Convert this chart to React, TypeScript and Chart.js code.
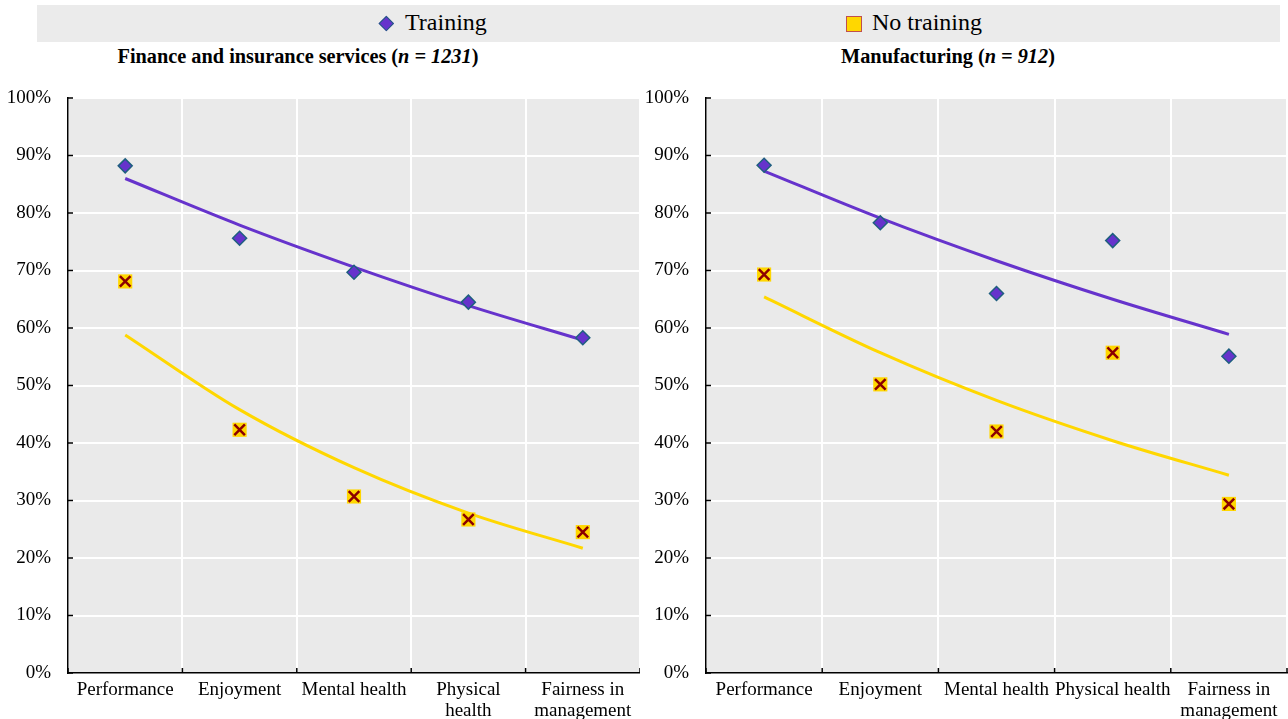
import React, { useEffect, useRef } from 'react';
import { Chart, registerables } from 'chart.js';

Chart.register(...registerables);

// ---------- Data ----------
const financeCategories: (string | string[])[] = ['Performance', 'Enjoyment', 'Mental health', ['Physical', 'health'], ['Fairness in', 'management']];
const manufacturingCategories: (string | string[])[] = ['Performance', 'Enjoyment', 'Mental health', 'Physical health', ['Fairness in', 'management']];

const financeTraining = [88.2, 75.6, 69.7, 64.5, 58.3];
const financeNoTraining = [68.1, 42.3, 30.7, 26.7, 24.5];
const financeTrainingTrend = [86.0, 77.9, 70.6, 63.9, 57.9];
const financeNoTrainingTrend = [58.8, 45.8, 35.7, 27.8, 21.7];

const manufacturingTraining = [88.3, 78.3, 66.0, 75.2, 55.1];
const manufacturingNoTraining = [69.3, 50.2, 42.0, 55.7, 29.4];
const manufacturingTrainingTrend = [87.3, 79.1, 71.7, 65.0, 58.9];
const manufacturingNoTrainingTrend = [65.4, 55.7, 47.4, 40.4, 34.4];

const legendLabels = ['Training', 'No training'];
const financeTitle = 'Finance and insurance services';
const financeN = 'n = 1231';
const manufacturingTitle = 'Manufacturing';
const manufacturingN = 'n = 912';

// ---------- Styles ----------
const FONT = "'Liberation Serif', 'Times New Roman', serif";
const PURPLE = '#6633CC';
const DIAMOND_EDGE = '#1F5F80';
const YELLOW = '#FFD700';
const XRED = '#8B0000';
const PLOT_BG = '#EAEAEA';

const plotBackground = {
  id: 'plotBackground',
  beforeDraw(chart: any) {
    const { ctx, chartArea } = chart;
    ctx.save();
    ctx.fillStyle = PLOT_BG;
    ctx.fillRect(chartArea.left, chartArea.top, chartArea.right - chartArea.left, chartArea.bottom - chartArea.top);
    ctx.restore();
  },
};

const innerTicks = {
  id: 'innerTicks',
  beforeDatasetsDraw(chart: any) {
    const { ctx, chartArea } = chart;
    const y = chart.scales.y;
    const x = chart.scales.x;
    ctx.save();
    ctx.strokeStyle = '#000';
    ctx.lineWidth = 1.5;
    ctx.beginPath();
    y.ticks.forEach((t: any) => {
      const py = y.getPixelForValue(t.value);
      ctx.moveTo(chartArea.left, py);
      ctx.lineTo(chartArea.left + 5, py);
    });
    const n = x.ticks.length;
    const step = (chartArea.right - chartArea.left) / n;
    for (let i = 0; i <= n; i++) {
      const px = chartArea.left + i * step;
      ctx.moveTo(px, chartArea.bottom);
      ctx.lineTo(px, chartArea.bottom - 5);
    }
    ctx.stroke();
    ctx.restore();
  },
};

function buildChart(
  canvas: HTMLCanvasElement,
  categories: (string | string[])[],
  training: number[],
  noTraining: number[],
  trainingTrend: number[],
  noTrainingTrend: number[],
  yAxisWidth: number,
  rightPad: number
) {
  return new Chart(canvas, {
    type: 'line',
    data: {
      labels: categories as any,
      datasets: [
        {
          label: 'No training marker',
          data: noTraining,
          showLine: false,
          pointStyle: 'crossRot',
          pointRadius: 7.5,
          pointBorderColor: XRED,
          pointBorderWidth: 2.5,
          order: 0,
        },
        {
          label: 'No training',
          data: noTraining,
          showLine: false,
          pointStyle: 'rect',
          pointRadius: 10,
          pointBackgroundColor: YELLOW,
          pointBorderColor: YELLOW,
          pointBorderWidth: 0,
          order: 1,
        },
        {
          label: 'Training',
          data: training,
          showLine: false,
          pointStyle: 'rectRot',
          pointRadius: 7,
          pointBackgroundColor: PURPLE,
          pointBorderColor: DIAMOND_EDGE,
          pointBorderWidth: 1.5,
          order: 2,
        },
        {
          label: 'Training trend',
          data: trainingTrend,
          borderColor: PURPLE,
          borderWidth: 3,
          pointRadius: 0,
          cubicInterpolationMode: 'monotone',
          fill: false,
          order: 5,
        },
        {
          label: 'No training trend',
          data: noTrainingTrend,
          borderColor: YELLOW,
          borderWidth: 3,
          pointRadius: 0,
          cubicInterpolationMode: 'monotone',
          fill: false,
          order: 6,
        },
      ] as any,
    },
    options: {
      animation: false,
      responsive: false,
      events: [],
      layout: { autoPadding: false, padding: { top: 98, right: rightPad, bottom: 0, left: 0 } },
      plugins: { legend: { display: false }, tooltip: { enabled: false }, title: { display: false } },
      scales: {
        x: {
          type: 'category',
          offset: true,
          grid: { offset: true, color: '#FFFFFF', lineWidth: 2, drawTicks: false },
          border: { display: true, color: '#000000', width: 1.5 },
          ticks: {
            autoSkip: false,
            maxRotation: 0,
            minRotation: 0,
            padding: 7,
            color: '#000000',
            font: { family: FONT, size: 19, lineHeight: 1.1 },
          },
          afterFit(scale: any) {
            scale.height = 46;
            scale.paddingLeft = 0;
            scale.paddingRight = 0;
          },
        },
        y: {
          min: 0,
          max: 100,
          grid: { color: '#FFFFFF', lineWidth: 2, drawTicks: false },
          border: { display: true, color: '#000000', width: 1.5 },
          ticks: {
            stepSize: 10,
            padding: 17,
            color: '#000000',
            font: { family: FONT, size: 19 },
            callback: (v: any) => `${v}%`,
          },
          afterFit(scale: any) {
            scale.width = yAxisWidth;
          },
        },
      },
    } as any,
    plugins: [plotBackground, innerTicks],
  });
}

export default function App() {
  const leftRef = useRef<HTMLCanvasElement>(null);
  const rightRef = useRef<HTMLCanvasElement>(null);

  useEffect(() => {
    const left = buildChart(
      leftRef.current!,
      financeCategories,
      financeTraining,
      financeNoTraining,
      financeTrainingTrend,
      financeNoTrainingTrend,
      68,
      0
    );
    const right = buildChart(
      rightRef.current!,
      manufacturingCategories,
      manufacturingTraining,
      manufacturingNoTraining,
      manufacturingTrainingTrend,
      manufacturingNoTrainingTrend,
      66,
      1
    );
    return () => {
      left.destroy();
      right.destroy();
    };
  }, []);

  const titleStyle: React.CSSProperties = {
    position: 'absolute',
    top: 46,
    fontFamily: FONT,
    fontWeight: 'bold',
    fontSize: 20.3,
    lineHeight: '20px',
    textAlign: 'center',
    whiteSpace: 'nowrap',
    color: '#000',
  };

  const legendText: React.CSSProperties = {
    position: 'absolute',
    top: 5,
    fontFamily: FONT,
    fontSize: 24,
    lineHeight: '24px',
    color: '#000',
    whiteSpace: 'nowrap',
  };

  return (
    <div style={{ position: 'fixed', left: 0, top: 0, width: 1288, height: 719, background: '#FFFFFF', overflow: 'hidden' }}>
      <div style={{ position: 'absolute', left: 37, top: 5, width: 1243, height: 37, background: '#EBEBEB' }}>
        <div
          style={{
            position: 'absolute',
            left: 386.5 - 37 - 5.3,
            top: 23.5 - 5 - 5.3,
            width: 10.6,
            height: 10.6,
            background: PURPLE,
            border: `1px solid ${DIAMOND_EDGE}`,
            boxSizing: 'border-box',
            transform: 'rotate(45deg)',
          }}
        />
        <div style={{ ...legendText, left: 405 - 37 }}>{legendLabels[0]}</div>
        <div
          style={{
            position: 'absolute',
            left: 846 - 37,
            top: 16 - 5,
            width: 16,
            height: 16,
            background: YELLOW,
            border: '1px solid #C0504D',
            boxSizing: 'border-box',
          }}
        />
        <div style={{ ...legendText, left: 872 - 37 }}>{legendLabels[1]}</div>
      </div>

      <div style={{ ...titleStyle, left: 0, width: 596 }}>
        {financeTitle} (<i>{financeN}</i>)
      </div>
      <div style={{ ...titleStyle, left: 650, width: 596 }}>
        {manufacturingTitle} (<i>{manufacturingN}</i>)
      </div>

      <canvas ref={leftRef} width={640} height={719} style={{ position: 'absolute', left: 0, top: 0, width: 640, height: 719 }} />
      <canvas ref={rightRef} width={648} height={719} style={{ position: 'absolute', left: 640, top: 0, width: 648, height: 719 }} />
    </div>
  );
}
